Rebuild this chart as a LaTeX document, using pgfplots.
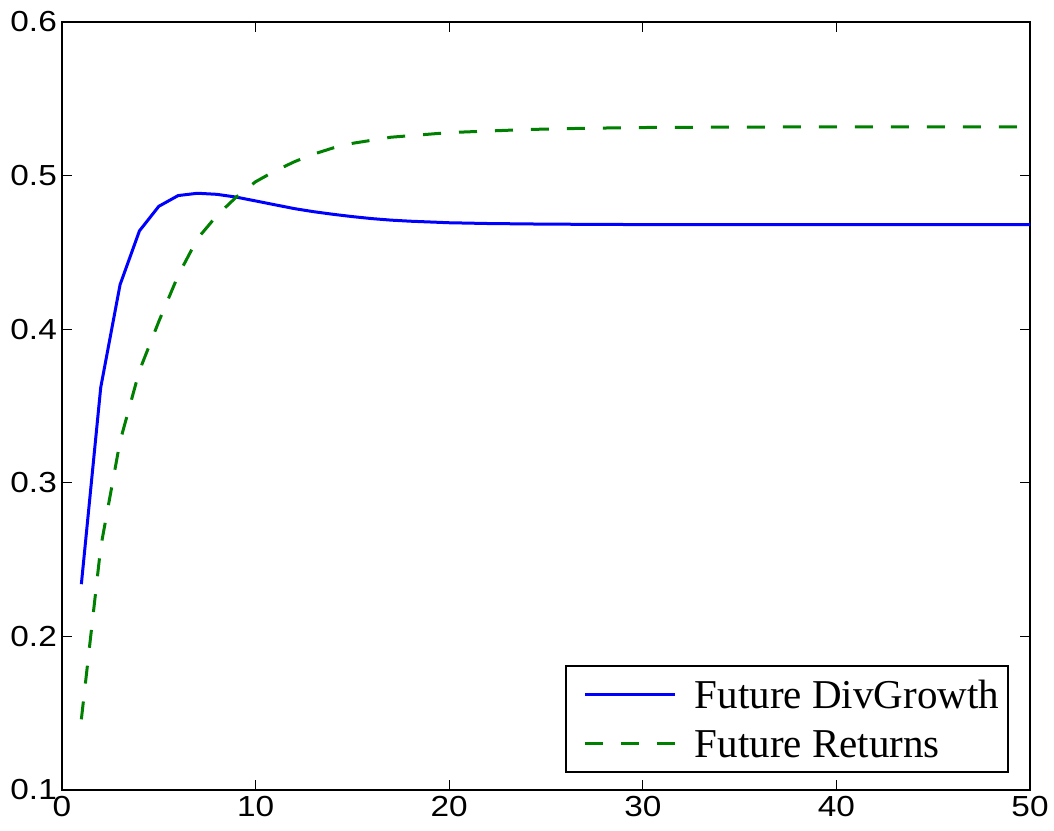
\documentclass[border=0pt]{standalone}
\usepackage{pgfplots}
\pgfplotsset{compat=1.18}
\usepackage{fontspec}
\setmainfont{Liberation Serif}
\newfontfamily\tickfont[FakeStretch=1.15]{Liberation Sans}
\definecolor{mblue}{RGB}{0,0,255}
\definecolor{mgreen}{RGB}{0,128,0}
\begin{document}
\begin{tikzpicture}
\begin{axis}[
 scale only axis, width=968pt, height=768pt,
 xmin=0, xmax=50, ymin=0.1, ymax=0.6,
 xtick={0,10,...,50}, ytick={0.1,0.2,...,0.6},
 tick align=inside, major tick length=10pt,
 axis line style={line width=1.6pt},
 tick style={line width=1.2pt, black},
 /pgf/number format/assume math mode=true,
 ticklabel style={font=\tickfont\fontsize{29}{29}\selectfont},
 yticklabel style={/pgf/number format/fixed, /pgf/number format/precision=1, /pgf/number format/fixed zerofill, inner xsep=5pt},
 xticklabel style={inner ysep=6pt},
 legend image code/.code={\path (0pt,0pt) (117pt,0pt); \draw[#1] (9pt,0pt) -- (99pt,0pt);},
 legend cell align=left,
 legend style={at={(0.978,0.0225)}, anchor=south east, draw=black, line width=1.4pt,
   font=\fontsize{41}{41}\selectfont, inner xsep=9pt, inner ysep=9pt, row sep=10pt,
   nodes={inner sep=0pt, text height=33pt, text depth=6pt}},
]
\addplot[mblue, line width=3pt] coordinates {
(1,0.234) (2,0.362) (3,0.429) (4,0.464) (5,0.480) (6,0.487) (7,0.4885) (8,0.4878)
(9,0.486) (10,0.4835) (11,0.481) (12,0.4785) (13,0.4765) (14,0.4748) (15,0.4733)
(16,0.4720) (17,0.4710) (18,0.4703) (19,0.4698) (20,0.4693) (22,0.4688) (25,0.4684)
(30,0.4681) (35,0.4680) (40,0.4680) (45,0.4680) (50,0.4680)
};
\addlegendentry{Future DivGrowth}
\addplot[mgreen, line width=3pt, dash pattern=on 18pt off 18pt] coordinates {
(1,0.146) (2,0.258) (3,0.327) (4,0.373) (5,0.405) (6,0.435) (7,0.459) (8,0.474)
(9,0.486) (10,0.496) (11,0.503) (12,0.509) (13,0.514) (14,0.518) (15,0.521)
(16,0.523) (17,0.525) (18,0.526) (19,0.527) (20,0.528) (22,0.529) (24,0.530)
(27,0.5308) (30,0.5313) (35,0.5316) (40,0.5317) (45,0.5317) (50,0.5317)
};
\addlegendentry{Future Returns}
\end{axis}
\pgfresetboundingbox
\path ([shift={(-62pt,-40pt)}]current axis.south west) rectangle ([shift={(24pt,22pt)}]current axis.north east);
\end{tikzpicture}
\end{document}
